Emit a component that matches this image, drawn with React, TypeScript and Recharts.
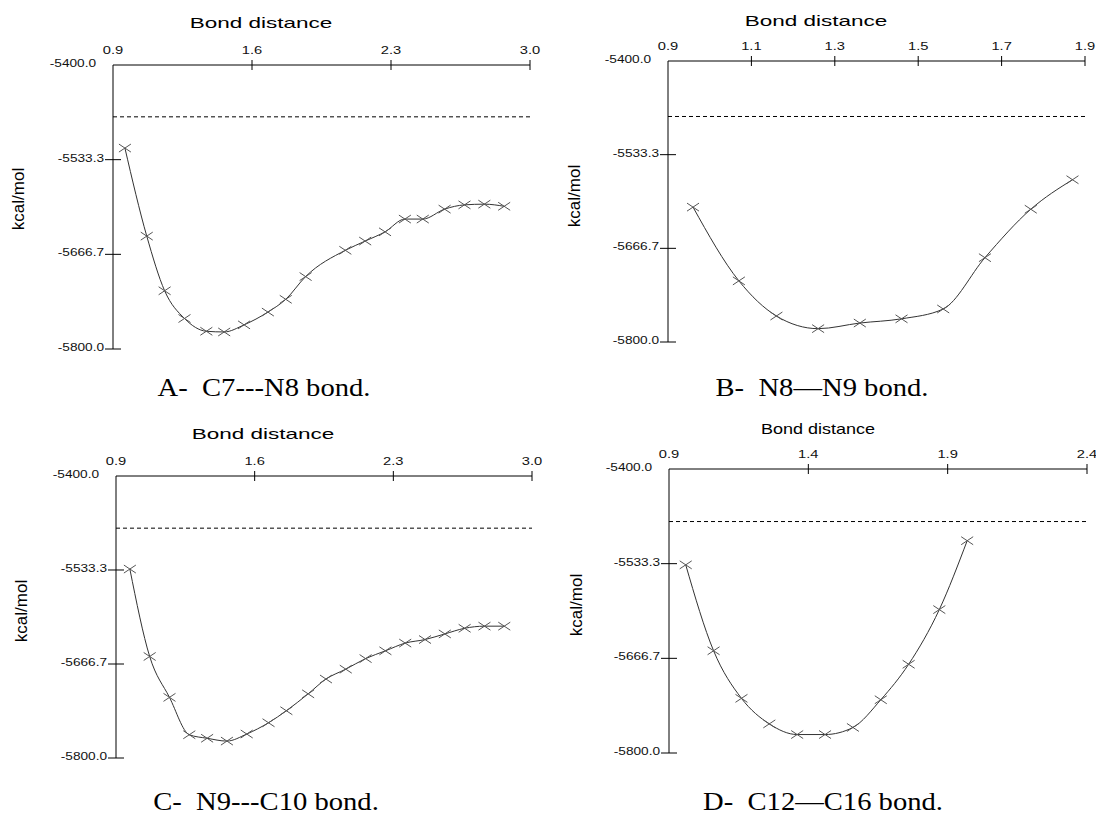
import { LineChart, Line, XAxis, YAxis, ReferenceLine } from 'recharts';

// A- C7---N8 bond
const aDist = [0.96, 1.07, 1.16, 1.26, 1.37, 1.46, 1.56, 1.68, 1.77, 1.87, 2.07, 2.17, 2.27, 2.37, 2.46, 2.57, 2.67, 2.77, 2.87];
const aEnergy = [-5517, -5641, -5718, -5757, -5775, -5776, -5766, -5748, -5730, -5698, -5661, -5648, -5635, -5617, -5617, -5603, -5597, -5596, -5599];

// B- N8—N9 bond
const bDist = [0.96, 1.07, 1.16, 1.26, 1.36, 1.46, 1.56, 1.66, 1.77, 1.87];
const bEnergy = [-5608, -5713, -5763, -5781, -5773, -5767, -5753, -5680, -5611, -5569];

// C- N9---C10 bond
const cDist = [0.97, 1.07, 1.17, 1.27, 1.36, 1.46, 1.56, 1.67, 1.76, 1.87, 1.96, 2.06, 2.16, 2.26, 2.36, 2.46, 2.56, 2.66, 2.76, 2.86];
const cEnergy = [-5532, -5656, -5714, -5767, -5772, -5776, -5766, -5750, -5733, -5709, -5688, -5674, -5659, -5648, -5637, -5632, -5624, -5616, -5613, -5613];

// D- C12—C16 bond
const dDist = [0.96, 1.06, 1.16, 1.26, 1.36, 1.46, 1.56, 1.66, 1.76, 1.87, 1.97];
const dEnergy = [-5535, -5656, -5723, -5759, -5774, -5774, -5764, -5725, -5675, -5598, -5501];

const longTicks = [0.9, 1.6, 2.3, 3.0];
const bTicks = [0.9, 1.1, 1.3, 1.5, 1.7, 1.9];
const dTicks = [0.9, 1.4, 1.9, 2.4];
const energyTicks = [-5800, -5666.67, -5533.33, -5400];

const aDash = -5473;
const bDash = -5479;
const cDash = -5474;
const dDash = -5474;

const PAD_L = 113;
const PAD_T = 65;
const PAD_R = 14;
const PAD_B = 14;
const X_AXIS_H = 30;
const Y_AXIS_W = 60;

const SANS = '"Liberation Sans", Arial, sans-serif';
const SERIF = '"Liberation Serif", "Times New Roman", serif';

function XTick({ x, payload, first }: any) {
  const isFirst = Math.abs(payload.value - first) < 1e-6;
  return (
    <g>
      {!isFirst && <line x1={x} x2={x} y1={PAD_T - 5} y2={PAD_T + 5} stroke="#000" />}
      <text
        transform={`translate(${x},${PAD_T - 11}) scale(1.4,1)`}
        textAnchor="middle"
        fontSize={10.5}
        fontFamily={SANS}
        fill="#111"
      >
        {payload.value.toFixed(1)}
      </text>
    </g>
  );
}

function YTick({ y, payload }: any) {
  const top = payload.value === -5400;
  return (
    <g>
      {!top && <line x1={PAD_L - 8} x2={PAD_L + 8} y1={y} y2={y} stroke="#000" />}
      <text
        transform={`translate(${PAD_L - (top ? 17 : 9)},${y + 2}) scale(1.3,1)`}
        textAnchor="end"
        fontSize={10.5}
        fontFamily={SANS}
        fill="#111"
      >
        {payload.value.toFixed(1)}
      </text>
    </g>
  );
}

function renderCross(props: any) {
  const { cx, cy, index } = props;
  return (
    <g key={`cross-${index}`} stroke="#555" strokeWidth={1}>
      <line x1={cx - 6} y1={cy - 4} x2={cx + 6} y2={cy + 4} />
      <line x1={cx - 6} y1={cy + 4} x2={cx + 6} y2={cy - 4} />
    </g>
  );
}

function Txt({ x, y, size, family, sx = 1, rotate = 0, children }: any) {
  return (
    <div
      style={{
        position: 'absolute',
        left: x,
        top: y,
        transform: `translate(-50%, -50%) rotate(${rotate}deg) scaleX(${sx})`,
        fontSize: size,
        fontFamily: family,
        whiteSpace: 'pre',
        lineHeight: 1,
        color: '#000',
      }}
    >
      {children}
    </div>
  );
}

function Panel({ box, dist, energy, ticks, dash, titleAt, titleScale, unitAt, caption, captionAt }: any) {
  const data = dist.map((x: number, i: number) => ({ x, y: energy[i] }));
  const w = box.right - box.left;
  const h = box.bottom - box.top;
  return (
    <>
      <div style={{ position: 'absolute', left: box.left - PAD_L, top: box.top - PAD_T }}>
        <LineChart
          width={w + PAD_L + PAD_R}
          height={h + PAD_T + PAD_B}
          data={data}
          margin={{ top: PAD_T - X_AXIS_H, left: PAD_L - Y_AXIS_W, right: PAD_R, bottom: PAD_B }}
        >
          <XAxis
            type="number"
            dataKey="x"
            orientation="top"
            domain={[ticks[0], ticks[ticks.length - 1]]}
            ticks={ticks}
            interval={0}
            height={X_AXIS_H}
            axisLine={{ stroke: '#000' }}
            tickLine={false}
            tick={<XTick first={ticks[0]} />}
            allowDataOverflow
          />
          <YAxis
            type="number"
            domain={[-5800, -5400]}
            ticks={energyTicks}
            interval={0}
            width={Y_AXIS_W}
            axisLine={{ stroke: '#000' }}
            tickLine={false}
            tick={<YTick />}
            allowDataOverflow
          />
          <ReferenceLine y={dash} stroke="#000" strokeDasharray="4 3" />
          <Line
            type="monotone"
            dataKey="y"
            stroke="#333"
            strokeWidth={1}
            dot={renderCross}
            activeDot={false}
            isAnimationActive={false}
          />
        </LineChart>
      </div>
      <Txt x={titleAt[0]} y={titleAt[1]} size={15} family={SANS} sx={titleScale}>Bond distance</Txt>
      <Txt x={unitAt[0]} y={unitAt[1]} size={17} family={SANS} rotate={-90}>kcal/mol</Txt>
      <Txt x={captionAt[0]} y={captionAt[1]} size={26} family={SERIF} sx={1.1}>{caption}</Txt>
    </>
  );
}

export default function App() {
  return (
    <div style={{ position: 'absolute', left: 0, top: 0, width: 1096, height: 817, background: '#fff', overflow: 'hidden' }}>
      <Panel
        box={{ left: 113, top: 65, right: 530, bottom: 349 }}
        dist={aDist}
        energy={aEnergy}
        ticks={longTicks}
        dash={aDash}
        titleAt={[261, 22]}
        titleScale={1.5}
        unitAt={[18, 199]}
        caption="A-  C7---N8 bond."
        captionAt={[264, 388]}
      />
      <Panel
        box={{ left: 668, top: 61, right: 1085, bottom: 342 }}
        dist={bDist}
        energy={bEnergy}
        ticks={bTicks}
        dash={bDash}
        titleAt={[816, 20]}
        titleScale={1.5}
        unitAt={[574, 196]}
        caption="B-  N8—N9 bond."
        captionAt={[822, 388]}
      />
      <Panel
        box={{ left: 116, top: 476, right: 532, bottom: 758 }}
        dist={cDist}
        energy={cEnergy}
        ticks={longTicks}
        dash={cDash}
        titleAt={[263, 433]}
        titleScale={1.5}
        unitAt={[21, 611]}
        caption="C-  N9---C10 bond."
        captionAt={[266, 802]}
      />
      <Panel
        box={{ left: 669, top: 469, right: 1087, bottom: 753 }}
        dist={dDist}
        energy={dEnergy}
        ticks={dTicks}
        dash={dDash}
        titleAt={[818, 428]}
        titleScale={1.2}
        unitAt={[576, 605]}
        caption="D-  C12—C16 bond."
        captionAt={[823, 802]}
      />
    </div>
  );
}
